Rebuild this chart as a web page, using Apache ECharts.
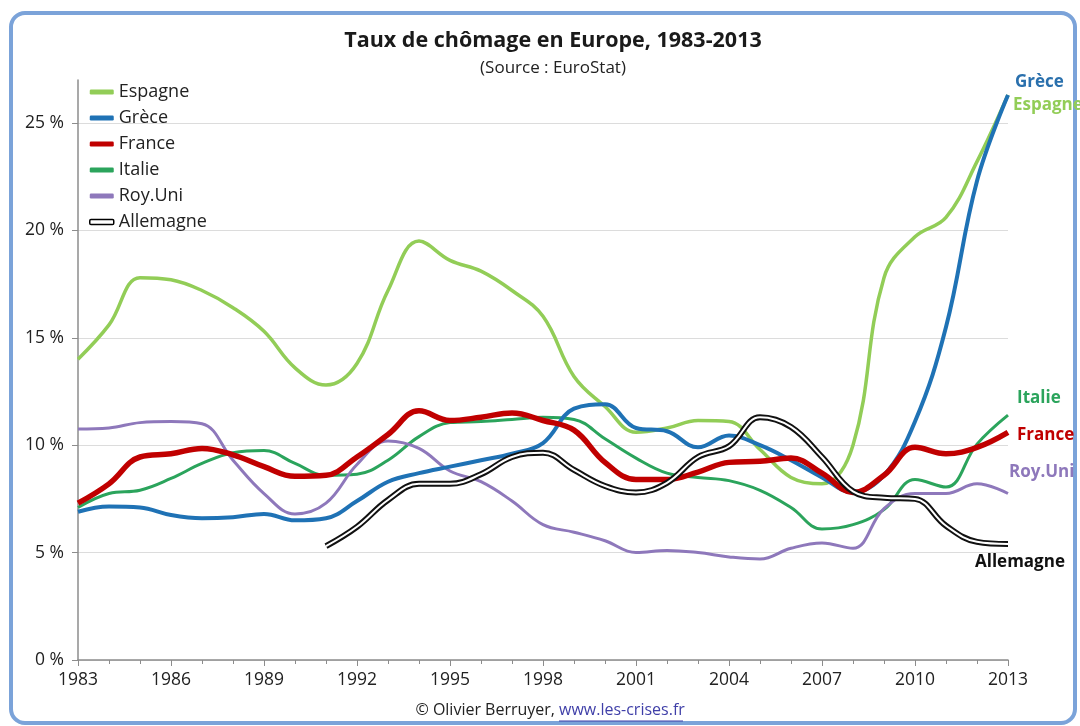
<!DOCTYPE html>
<html style="height: 100%">
<head>
    <meta charset="utf-8">
    <style>
        html, body {
            height: 100%;
            margin: 0;
            padding: 0;
            overflow: hidden;
            background: #ffffff;
        }
        #container {
            width: 1080px;
            height: 726px;
        }
    </style>
</head>
<body>
    <div id="container"></div>

    <script src="https://cdn.jsdelivr.net/npm/echarts@6/dist/echarts.min.js"></script>
    <script>
        // années 1983 -> 2013
        var years = [];
        for (var y = 1983; y <= 2013; y++) years.push(y);

        // taux de chômage (%)
        var espagne = [14.0, 15.6, 17.8, 17.7, 17.2, 16.4, 15.3, 13.6, 12.8, 13.8, 17.2,
                       19.5, 18.6, 18.1, 17.2, 16.0, 13.2, 11.8, 10.6, 10.8, 11.15,
                       11.1, 9.8, 8.5, 8.2, 10.0, 17.8, 19.7, 20.6, 23.2, 26.3];
        var grece = [6.9, 7.15, 7.1, 6.75, 6.6, 6.65, 6.8, 6.5, 6.6, 7.4, 8.3,
                     8.7, 9.0, 9.3, 9.6, 10.1, 11.7, 11.9, 10.8, 10.65, 9.9,
                     10.45, 10.0, 9.3, 8.5, 7.8, 8.6, 11.1, 15.5, 22.3, 26.3];
        var france = [7.3, 8.2, 9.45, 9.6, 9.85, 9.55, 9.0, 8.55, 8.6, 9.45, 10.5,
                      11.6, 11.15, 11.3, 11.5, 11.15, 10.7, 9.2, 8.4, 8.4, 8.75,
                      9.2, 9.25, 9.4, 8.7, 7.8, 8.6, 9.9, 9.6, 9.9, 10.6];
        var italie = [7.1, 7.75, 7.9, 8.45, 9.15, 9.65, 9.75, 9.15, 8.6, 8.65, 9.3,
                      10.4, 11.05, 11.1, 11.2, 11.3, 11.2, 10.3, 9.4, 8.7, 8.5,
                      8.35, 7.9, 7.1, 6.1, 6.3, 7.0, 8.4, 8.05, 10.05, 11.4];
        var royUni = [10.75, 10.8, 11.05, 11.1, 11.0, 9.3, 7.75, 6.8, 7.3, 9.1, 10.2,
                      9.85, 8.8, 8.3, 7.4, 6.3, 5.95, 5.55, 5.0, 5.1, 5.0,
                      4.8, 4.7, 5.2, 5.45, 5.2, 7.05, 7.75, 7.75, 8.2, 7.75];
        var allemagne = [null, null, null, null, null, null, null, null, 5.3, 6.2, 7.45,
                         8.2, 8.2, 8.65, 9.45, 9.65, 8.85, 8.1, 7.8, 8.25, 9.45,
                         9.95, 11.3, 10.85, 9.45, 7.85, 7.55, 7.5, 6.25, 5.5, 5.4];

        var yTicks = [0, 5, 10, 15, 20, 25];

        function pairs(values) {
            return years.map(function (yr, i) {
                return [yr, values[i] == null ? '-' : values[i]];
            });
        }

        var font = '"Open Sans", "Noto Sans", sans-serif';

        function endLbl(text, color, offset) {
            return {
                show: true,
                formatter: text,
                color: color,
                fontFamily: font,
                fontWeight: 'bold',
                fontSize: 17,
                offset: offset
            };
        }

        var dom = document.getElementById('container');
        var myChart = echarts.init(dom, null, {renderer: 'canvas'});

        var option = {
            backgroundColor: '#ffffff',
            animation: false,
            title: [{
                text: 'Taux de chômage en Europe, 1983-2013',
                left: 548,
                top: 25,
                textAlign: 'center',
                textStyle: {fontFamily: font, fontSize: 21.5, fontWeight: 'bold', color: '#1a1a1a'}
            }, {
                text: '(Source : EuroStat)',
                left: 548,
                top: 55,
                textAlign: 'center',
                textStyle: {fontFamily: font, fontSize: 17, fontWeight: 'normal', color: '#222'}
            }],
            legend: {
                orient: 'vertical',
                left: 84,
                top: 77,
                itemWidth: 24,
                itemHeight: 5,
                itemGap: 6,
                icon: 'roundRect',
                textStyle: {fontFamily: font, fontSize: 18, color: '#222', lineHeight: 20},
                data: [
                    'Espagne', 'Grèce', 'France', 'Italie', 'Roy.Uni',
                    {name: 'Allemagne', itemStyle: {color: '#ffffff', borderColor: '#000', borderWidth: 1.5}}
                ]
            },
            grid: {left: 78, right: 72, top: 80, bottom: 66},
            xAxis: {
                type: 'value',
                min: 1983,
                max: 2013,
                interval: 3,
                axisLine: {lineStyle: {color: '#8c8c8c', width: 1.5}},
                axisTick: {show: true, length: 6, lineStyle: {color: '#8c8c8c'}},
                minorTick: {show: true, splitNumber: 3, length: 4, lineStyle: {color: '#8c8c8c'}},
                splitLine: {show: false},
                axisLabel: {
                    fontFamily: font, fontSize: 17.5, color: '#222', margin: 11,
                    formatter: function (v) { return String(v); }
                }
            },
            yAxis: {
                type: 'value',
                min: 0,
                max: 27,
                interval: 5,
                axisLine: {show: true, lineStyle: {color: '#8c8c8c', width: 1.5}},
                axisTick: {show: true, length: 6, lineStyle: {color: '#8c8c8c'}},
                splitLine: {show: true, showMaxLine: false, lineStyle: {color: '#dcdcdc', width: 1}},
                axisLabel: {
                    fontFamily: font, fontSize: 17.5, color: '#222', margin: 14,
                    showMaxLabel: false,
                    formatter: function (v) { return yTicks.indexOf(v) >= 0 ? v + ' %' : ''; }
                }
            },
            graphic: [{
                type: 'rect',
                z: 0,
                shape: {x: 11, y: 13, width: 1064, height: 710, r: 14},
                style: {fill: 'none', stroke: '#7ba3d9', lineWidth: 4}
            }, {
                type: 'text',
                x: 555,
                y: 702,
                style: {
                    text: '© Olivier Berruyer,',
                    font: '16px ' + font,
                    fill: '#222',
                    align: 'right'
                }
            }, {
                type: 'text',
                x: 559,
                y: 702,
                style: {
                    text: 'www.les-crises.fr',
                    font: '16px ' + font,
                    fill: '#3f3fa8',
                    align: 'left'
                }
            }, {
                type: 'line',
                shape: {x1: 559, y1: 721, x2: 683, y2: 721},
                style: {stroke: '#3f3fa8', lineWidth: 1}
            }],
            series: [{
                name: 'Espagne',
                type: 'line',
                smooth: 0.4,
                showSymbol: false,
                color: '#92cd57',
                lineStyle: {width: 3.5, color: '#92cd57'},
                data: pairs(espagne),
                endLabel: endLbl('Espagne', '#92cd57', [-3, 10]),
                z: 2
            }, {
                name: 'Italie',
                type: 'line',
                smooth: 0.4,
                showSymbol: false,
                color: '#2ba45c',
                lineStyle: {width: 3, color: '#2ba45c'},
                data: pairs(italie),
                endLabel: endLbl('Italie', '#2ba45c', [1, -17]),
                z: 3
            }, {
                name: 'Roy.Uni',
                type: 'line',
                smooth: 0.4,
                showSymbol: false,
                color: '#8e78bb',
                lineStyle: {width: 3, color: '#8e78bb'},
                data: pairs(royUni),
                endLabel: endLbl('Roy.Uni', '#8e78bb', [-7, -21]),
                z: 3
            }, {
                name: 'Grèce',
                type: 'line',
                smooth: 0.4,
                showSymbol: false,
                color: '#1f72b5',
                lineStyle: {width: 4, color: '#1f72b5'},
                data: pairs(grece),
                endLabel: endLbl('Grèce', '#2a70ad', [-1, -13]),
                z: 4
            }, {
                name: 'France',
                type: 'line',
                smooth: 0.4,
                showSymbol: false,
                color: '#c00000',
                lineStyle: {width: 5.5, color: '#c00000'},
                data: pairs(france),
                endLabel: endLbl('France', '#c00000', [1, 3]),
                z: 5
            }, {
                name: 'Allemagne',
                type: 'line',
                smooth: 0.4,
                showSymbol: false,
                connectNulls: false,
                color: '#111',
                lineStyle: {width: 6, color: '#111'},
                data: pairs(allemagne),
                endLabel: endLbl('Allemagne', '#111', [-41, 18]),
                z: 6
            }, {
                name: 'Allemagne',
                type: 'line',
                smooth: 0.4,
                showSymbol: false,
                connectNulls: false,
                color: '#fff',
                lineStyle: {width: 2, color: '#ffffff'},
                data: pairs(allemagne),
                z: 7
            }]
        };

        myChart.setOption(option);
    </script>
</body>
</html>
